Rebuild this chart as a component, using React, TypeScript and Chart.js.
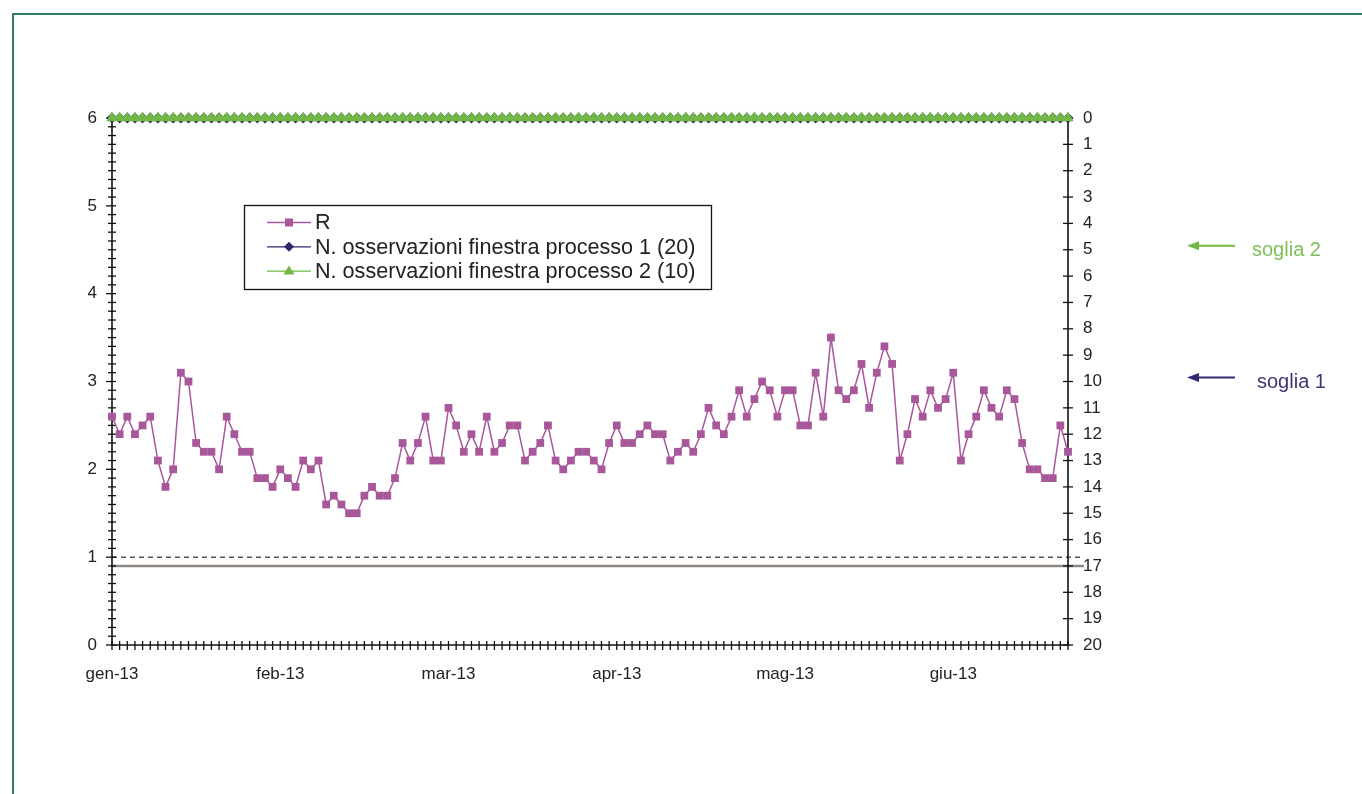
import React, { useEffect, useRef } from "react";
import { Chart, registerables } from "chart.js";

Chart.register(...registerables);

// ---- data ----
const monthLabels = ["gen-13", "feb-13", "mar-13", "apr-13", "mag-13", "giu-13"];
const monthLabelEvery = 22;

const rValues = [
  2.6, 2.4, 2.6, 2.4, 2.5, 2.6, 2.1, 1.8, 2.0, 3.1,
  3.0, 2.3, 2.2, 2.2, 2.0, 2.6, 2.4, 2.2, 2.2, 1.9,
  1.9, 1.8, 2.0, 1.9, 1.8, 2.1, 2.0, 2.1, 1.6, 1.7,
  1.6, 1.5, 1.5, 1.7, 1.8, 1.7, 1.7, 1.9, 2.3, 2.1,
  2.3, 2.6, 2.1, 2.1, 2.7, 2.5, 2.2, 2.4, 2.2, 2.6,
  2.2, 2.3, 2.5, 2.5, 2.1, 2.2, 2.3, 2.5, 2.1, 2.0,
  2.1, 2.2, 2.2, 2.1, 2.0, 2.3, 2.5, 2.3, 2.3, 2.4,
  2.5, 2.4, 2.4, 2.1, 2.2, 2.3, 2.2, 2.4, 2.7, 2.5,
  2.4, 2.6, 2.9, 2.6, 2.8, 3.0, 2.9, 2.6, 2.9, 2.9,
  2.5, 2.5, 3.1, 2.6, 3.5, 2.9, 2.8, 2.9, 3.2, 2.7,
  3.1, 3.4, 3.2, 2.1, 2.4, 2.8, 2.6, 2.9, 2.7, 2.8,
  3.1, 2.1, 2.4, 2.6, 2.9, 2.7, 2.6, 2.9, 2.8, 2.3,
  2.0, 2.0, 1.9, 1.9, 2.5, 2.2,
];

const obs1Values = [
  0, 0, 0, 0, 0, 0, 0, 0, 0, 0, 0, 0, 0, 0, 0, 0, 0, 0, 0, 0, 0,
  0, 0, 0, 0, 0, 0, 0, 0, 0, 0, 0, 0, 0, 0, 0, 0, 0, 0, 0, 0, 0,
  0, 0, 0, 0, 0, 0, 0, 0, 0, 0, 0, 0, 0, 0, 0, 0, 0, 0, 0, 0, 0,
  0, 0, 0, 0, 0, 0, 0, 0, 0, 0, 0, 0, 0, 0, 0, 0, 0, 0, 0, 0, 0,
  0, 0, 0, 0, 0, 0, 0, 0, 0, 0, 0, 0, 0, 0, 0, 0, 0, 0, 0, 0, 0,
  0, 0, 0, 0, 0, 0, 0, 0, 0, 0, 0, 0, 0, 0, 0, 0, 0, 0, 0, 0, 0,
];

const obs2Values = [
  0, 0, 0, 0, 0, 0, 0, 0, 0, 0, 0, 0, 0, 0, 0, 0, 0, 0, 0, 0, 0,
  0, 0, 0, 0, 0, 0, 0, 0, 0, 0, 0, 0, 0, 0, 0, 0, 0, 0, 0, 0, 0,
  0, 0, 0, 0, 0, 0, 0, 0, 0, 0, 0, 0, 0, 0, 0, 0, 0, 0, 0, 0, 0,
  0, 0, 0, 0, 0, 0, 0, 0, 0, 0, 0, 0, 0, 0, 0, 0, 0, 0, 0, 0, 0,
  0, 0, 0, 0, 0, 0, 0, 0, 0, 0, 0, 0, 0, 0, 0, 0, 0, 0, 0, 0, 0,
  0, 0, 0, 0, 0, 0, 0, 0, 0, 0, 0, 0, 0, 0, 0, 0, 0, 0, 0, 0, 0,
];

const seriesLabels = [
  "R",
  "N. osservazioni finestra processo 1 (20)",
  "N. osservazioni finestra processo 2 (10)",
];

const leftAxisMin = 0;
const leftAxisMax = 6;
const leftAxisStep = 0.1;
const rightAxisMin = 0;
const rightAxisMax = 20;
const rightAxisStep = 1;

const dashedLevelLeft = 1; // dashed reference on R axis
const solidLevelRight = 17; // solid reference on right axis

const thresholdLabels = ["soglia 2", "soglia 1"];
const thresholdValues = [5, 10]; // right axis

// ---- styles ----
const FONT = '"Liberation Sans", Arial, sans-serif';
const C_R = "#A8579B";
const C_NAVY = "#2F2A6E";
const C_GREEN = "#72B844";
const thresholdTextColors = ["#7DBE55", "#3D3676"];
const thresholdArrowColors = [C_GREEN, C_NAVY];

const categories = rValues.map((_, i) =>
  i % monthLabelEvery === 0 ? monthLabels[i / monthLabelEvery] ?? "" : ""
);

function seg(ctx: CanvasRenderingContext2D, x1: number, y1: number, x2: number, y2: number) {
  ctx.beginPath();
  ctx.moveTo(x1, y1);
  ctx.lineTo(x2, y2);
  ctx.stroke();
}

const axesPlugin = {
  id: "excelAxes",
  beforeDatasetsDraw(chart: any) {
    const { ctx, chartArea, scales } = chart;
    const { left, right, top, bottom } = chartArea;
    const yL = scales.y;
    const yR = scales.y1;
    const x = scales.x;
    ctx.save();
    const yd = yL.getPixelForValue(dashedLevelLeft);
    ctx.strokeStyle = "#555";
    ctx.lineWidth = 1.5;
    ctx.setLineDash([5, 4]);
    seg(ctx, left, yd, right + 14, yd);
    ctx.setLineDash([]);
    const ys = yR.getPixelForValue(solidLevelRight);
    ctx.strokeStyle = "#8E8782";
    ctx.lineWidth = 2.5;
    seg(ctx, left, ys, right + 16, ys);

    ctx.strokeStyle = "#111";
    ctx.lineWidth = 1.6;
    seg(ctx, left, top, left, bottom + 1);
    seg(ctx, right, top, right, bottom + 1);
    seg(ctx, left, bottom, right, bottom);
    ctx.lineWidth = 1.3;
    yL.ticks.forEach((t: any) => {
      const p = yL.getPixelForValue(t.value);
      const major = Math.abs(t.value - Math.round(t.value)) < 1e-6;
      seg(ctx, left - (major ? 6 : 4), p, left + 4, p);
    });
    yR.ticks.forEach((t: any) => {
      const p = yR.getPixelForValue(t.value);
      seg(ctx, right - 5, p, right + 5, p);
    });
    x.ticks.forEach((_t: any, i: number) => {
      const p = x.getPixelForTick(i);
      seg(ctx, p, bottom - 4, p, bottom + 5);
    });
    ctx.restore();
  },
};

function drawMarker(ctx: CanvasRenderingContext2D, style: string, cx: number, cy: number, color: string) {
  ctx.fillStyle = color;
  ctx.beginPath();
  if (style === "rect") {
    ctx.rect(cx - 4, cy - 4, 8, 8);
  } else if (style === "rectRot") {
    ctx.moveTo(cx, cy - 5);
    ctx.lineTo(cx + 5, cy);
    ctx.lineTo(cx, cy + 5);
    ctx.lineTo(cx - 5, cy);
    ctx.closePath();
  } else {
    ctx.moveTo(cx, cy - 5.5);
    ctx.lineTo(cx + 5.5, cy + 3.5);
    ctx.lineTo(cx - 5.5, cy + 3.5);
    ctx.closePath();
  }
  ctx.fill();
}

const legendPlugin = {
  id: "boxLegend",
  afterDatasetsDraw(chart: any) {
    const ctx: CanvasRenderingContext2D = chart.ctx;
    ctx.save();
    const bx = 244, by = 205, bw = 467, bh = 84;
    ctx.fillStyle = "#fff";
    ctx.fillRect(bx, by, bw, bh);
    ctx.strokeStyle = "#111";
    ctx.lineWidth = 1.3;
    ctx.strokeRect(bx + 0.5, by + 0.5, bw, bh);
    chart.data.datasets.forEach((ds: any, i: number) => {
      const y = 222.5 + i * 24.3;
      ctx.strokeStyle = ds.borderColor;
      ctx.lineWidth = 1.3;
      seg(ctx, 267, y, 311, y);
      drawMarker(ctx, ds.pointStyle, 289, y, ds.pointBackgroundColor);
      ctx.fillStyle = "#222";
      ctx.font = `21.6px ${FONT}`;
      ctx.textBaseline = "middle";
      ctx.textAlign = "left";
      ctx.fillText(ds.label, 315, y + 1);
    });
    ctx.restore();
  },
};

const thresholdPlugin = {
  id: "soglie",
  afterDraw(chart: any) {
    const ctx: CanvasRenderingContext2D = chart.ctx;
    const yR = chart.scales.y1;
    const textX = [1252, 1257];
    ctx.save();
    thresholdValues.forEach((v, i) => {
      const p = yR.getPixelForValue(v);
      const ay = p - 4;
      ctx.strokeStyle = thresholdArrowColors[i];
      ctx.fillStyle = thresholdArrowColors[i];
      ctx.lineWidth = 2;
      seg(ctx, 1197, ay, 1235, ay);
      ctx.beginPath();
      ctx.moveTo(1187, ay);
      ctx.lineTo(1199, ay - 4.5);
      ctx.lineTo(1199, ay + 4.5);
      ctx.closePath();
      ctx.fill();
      ctx.fillStyle = thresholdTextColors[i];
      ctx.font = `20px ${FONT}`;
      ctx.textBaseline = "middle";
      ctx.textAlign = "left";
      ctx.fillText(thresholdLabels[i], textX[i], p + 1);
    });
    ctx.restore();
  },
};

export default function App() {
  const canvasRef = useRef<HTMLCanvasElement | null>(null);

  useEffect(() => {
    const canvas = canvasRef.current;
    if (!canvas) return;
    Chart.defaults.font.family = FONT;
    const tickFont = { family: FONT, size: 17 };
    const chart = new Chart(canvas, {
      type: "line",
      data: {
        labels: categories,
        datasets: [
          {
            label: seriesLabels[0],
            data: rValues,
            yAxisID: "y",
            borderColor: C_R,
            backgroundColor: C_R,
            pointBackgroundColor: C_R,
            pointBorderColor: C_R,
            pointBorderWidth: 0,
            pointStyle: "rect",
            pointRadius: 5.5,
            borderWidth: 1.5,
            tension: 0,
            order: 0,
            clip: false,
          },
          {
            label: seriesLabels[1],
            data: obs1Values,
            yAxisID: "y1",
            borderColor: C_NAVY,
            backgroundColor: C_NAVY,
            pointBackgroundColor: C_NAVY,
            pointBorderColor: C_NAVY,
            pointBorderWidth: 0,
            pointStyle: "rectRot",
            pointRadius: 5.5,
            borderWidth: 1.5,
            order: 2,
            clip: false,
          },
          {
            label: seriesLabels[2],
            data: obs2Values,
            yAxisID: "y1",
            borderColor: C_GREEN,
            backgroundColor: C_GREEN,
            pointBackgroundColor: C_GREEN,
            pointBorderColor: C_GREEN,
            pointBorderWidth: 0,
            pointStyle: "triangle",
            pointRadius: 6.5,
            borderWidth: 4,
            order: 1,
            clip: false,
          },
        ] as any,
      },
      options: {
        responsive: false,
        animation: false,
        devicePixelRatio: 1,
        layout: { padding: { top: 118, left: 0, right: 0, bottom: 0 } },
        plugins: { legend: { display: false }, tooltip: { enabled: false } },
        scales: {
          x: {
            type: "category",
            offset: false,
            grid: { display: false, drawTicks: false, tickLength: 0 },
            border: { display: false },
            ticks: {
              autoSkip: false,
              maxRotation: 0,
              minRotation: 0,
              padding: 19,
              color: "#222",
              font: tickFont,
              callback: (_v: any, i: number) => categories[i],
            },
            afterFit: (s: any) => {
              s.height = 149;
            },
          },
          y: {
            type: "linear",
            position: "left",
            min: leftAxisMin,
            max: leftAxisMax,
            grid: { display: false, drawTicks: false, tickLength: 0 },
            border: { display: false },
            ticks: {
              stepSize: leftAxisStep,
              autoSkip: false,
              maxTicksLimit: 1000,
              padding: 15,
              color: "#222",
              font: tickFont,
              callback: (v: any) => {
                const n = Number(v);
                return Math.abs(n - Math.round(n)) < 1e-6 ? String(Math.round(n)) : "";
              },
            },
            afterFit: (s: any) => {
              s.width = 112;
            },
          },
          y1: {
            type: "linear",
            position: "right",
            reverse: true,
            min: rightAxisMin,
            max: rightAxisMax,
            grid: { display: false, drawTicks: false, tickLength: 0 },
            border: { display: false },
            ticks: {
              stepSize: rightAxisStep,
              autoSkip: false,
              padding: 15,
              color: "#222",
              font: tickFont,
            },
            afterFit: (s: any) => {
              s.width = 294;
            },
          },
        },
      } as any,
      plugins: [axesPlugin, legendPlugin, thresholdPlugin],
    });
    return () => chart.destroy();
  }, []);

  return (
    <div style={{ position: "fixed", inset: 0, overflow: "hidden", background: "#fff" }}>
      <div
        style={{
          position: "absolute",
          left: 12,
          top: 13,
          width: 1400,
          height: 900,
          border: "2px solid #2E7B67",
          boxSizing: "border-box",
        }}
      />
      <canvas
        ref={canvasRef}
        width={1362}
        height={794}
        style={{ position: "absolute", left: 0, top: 0, width: 1362, height: 794 }}
      />
    </div>
  );
}
